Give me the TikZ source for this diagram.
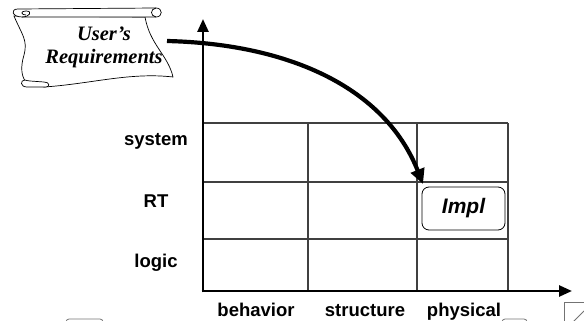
\documentclass[tikz,border=0pt]{standalone}
\usepackage{fontspec}
\setmainfont{Liberation Serif}
\setsansfont{Liberation Sans}
\usetikzlibrary{arrows.meta}
\begin{document}
\begin{tikzpicture}[x=1pt,y=-1pt,
  lbl/.style={font=\sffamily\bfseries\fontsize{18.5}{20}\selectfont, inner sep=0pt, anchor=base},
  gridln/.style={line width=1.1pt, draw=black!75},
  axis/.style={line width=2.6pt, -{Triangle[length=13pt,width=11pt]}},
  scrollln/.style={line width=0.7pt, draw=black},
  ghost/.style={line width=0.8pt, draw=black!55}]
\useasboundingbox (0,0) rectangle (584,321);
% grid
\draw[gridln] (203,123) -- (508,123);
\draw[gridln] (203,182) -- (508,182);
\draw[gridln] (203,239) -- (508,239);
\draw[gridln] (308,123) -- (308,291);
\draw[gridln] (417,123) -- (417,291);
\draw[gridln] (508,123) -- (508,291);
% axes
\coordinate (o) at (203,291);
\coordinate (ytip) at (203,19);
\coordinate (xtip) at (572,291);
\draw[axis] (203,292.3) -- (ytip);
\draw[axis] (201.7,291) -- (xtip);
% labels
\node[lbl] (sys) at (156,145) {system};
\node[lbl] (rt) at (156,207) {RT};
\node[lbl] (lg) at (156,267) {logic};
\node[lbl] (beh) at (256,316) {behavior};
\node[lbl] (str) at (365,316) {structure};
\node[lbl] (phy) at (464,316) {physical};
% impl box
\node[draw, line width=0.8pt, fill=white, rounded corners=7pt, minimum width=83pt, minimum height=43pt,
  font=\sffamily\bfseries\itshape\fontsize{21}{22}\selectfont] (impl) at (463.5,208.5) {Impl};
% scroll
\filldraw[scrollln, fill=white]
  (14,16) .. controls (22,35) and (28,40) .. (24,55)
  .. controls (20,68) and (22,76) .. (25,81)
  -- (44,87)
  .. controls (90,84) and (130,72) .. (173,77)
  .. controls (168,55) and (150,45) .. (145,17)
  -- cycle;
% top roll
\filldraw[scrollln, fill=white]
  (18,9) -- (156,8) .. controls (163,8) and (163,17) .. (156,17) -- (22,17)
  .. controls (12,17) and (10,9) .. (18,9) -- cycle;
\draw[scrollln] (156,8) .. controls (150,9) and (150,16) .. (156,17);
\draw[scrollln] (22,17) .. controls (30,17) and (33,11) .. (26,11)
  .. controls (20,11) and (21,15) .. (26,15);
% bottom roll
\filldraw[scrollln, fill=white]
  (25,80) .. controls (20,80) and (20,87) .. (27,87) -- (46,87)
  .. controls (50,87) and (50,82) .. (44,82) -- (30,81) .. controls (27,81) and (26,80) .. (25,80);
\node[font=\bfseries\itshape\fontsize{20.5}{23}\selectfont, align=center, inner sep=0pt] (req) at (104,47) {User's\\Requirements};
% curved arrow
\coordinate (cstart) at (167,41);
\coordinate (ctip) at (423,184);
\draw[line width=4.2pt, -{Triangle[length=15pt,width=14pt]}]
  (cstart) .. controls (290,44) and (385,88) .. (ctip);
% clipped remnants at bottom edge
\draw[ghost, rounded corners=3pt] (66,323) -- (66,319) -- (103,319) -- (103,323);
\draw[ghost, rounded corners=3pt] (502,323) -- (502,319) -- (527,319) -- (527,323);
\draw[ghost] (564,323) -- (564,302) -- (586,302);
\draw[ghost] (584,311) -- (572,323);
\end{tikzpicture}
\end{document}
